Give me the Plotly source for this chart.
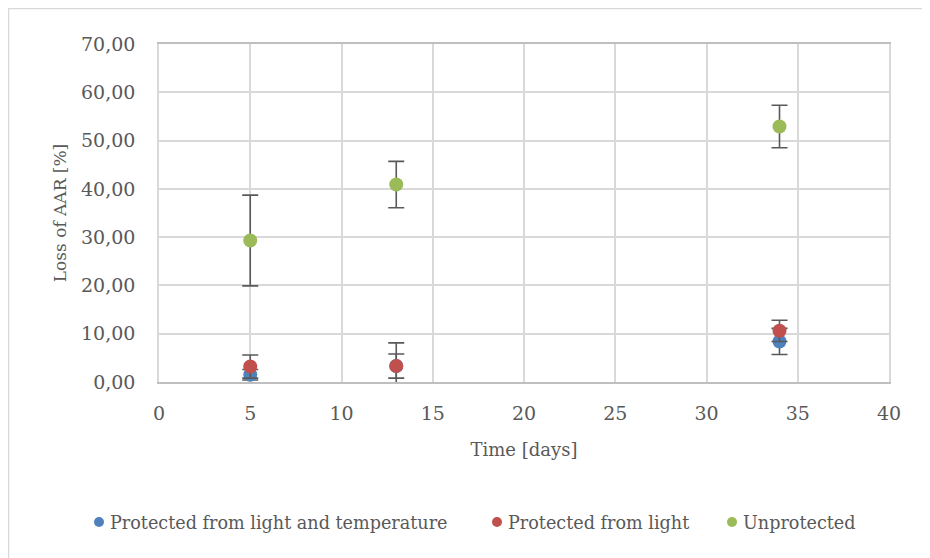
import plotly.graph_objects as go

days = [5, 13, 34]
series_names = ["Protected from light and temperature", "Protected from light", "Unprotected"]
blue_vals = [1.5, 3.3, 8.4]
blue_err = [1.1, 4.8, 2.7]
red_vals = [3.2, 3.3, 10.6]
red_err = [2.4, 2.5, 2.2]
green_vals = [29.3, 40.9, 52.9]
green_err = [9.4, 4.8, 4.4]
colors = ["#4F81BD", "#C0504D", "#9BBB59"]

x_ticks = [0, 5, 10, 15, 20, 25, 30, 35, 40]
y_ticks = [0, 10, 20, 30, 40, 50, 60, 70]

FONT = "DejaVu Serif"
OFF = 8  # page body margin
W, H = 930 - OFF, 558 - OFF
L, R, T, B = 159 - OFF, 41, 44 - OFF, 176
pw, ph = W - L - R, H - T - B

fig = go.Figure()
for name, vals, errs, c in zip(series_names, [blue_vals, red_vals, green_vals],
                               [blue_err, red_err, green_err], colors):
    fig.add_trace(go.Scatter(
        x=days, y=vals, mode="markers", name=name, showlegend=False,
        marker=dict(color=c, size=14, line=dict(width=0)),
        error_y=dict(type="data", array=errs, visible=True,
                     color="#595959", thickness=1.6, width=8),
    ))

# page pixel -> paper coords
def px_x(p):
    return (p - OFF - L) / pw

def px_y(p):
    return (H - B - (p - OFF)) / ph

# manual legend (Excel style: small dot right before text)
legend_text_x = [108, 506, 741]
legend_y = 523
annotations = []
shapes = [
    dict(type="line", xref="paper", yref="paper", x0=px_x(8), x1=px_x(940),
         y0=px_y(8.5), y1=px_y(8.5), line=dict(color="#D9D9D9", width=1.5)),
    dict(type="line", xref="paper", yref="paper", x0=px_x(8.5), x1=px_x(8.5),
         y0=px_y(8), y1=px_y(570), line=dict(color="#D9D9D9", width=1.5)),
]
for name, c, tx in zip(series_names, colors, legend_text_x):
    annotations.append(dict(
        x=px_x(tx), y=px_y(legend_y), xref="paper", yref="paper",
        xanchor="left", yanchor="middle", showarrow=False, text=name,
        font=dict(family=FONT, size=17.6, color="#595959"),
    ))
    shapes.append(dict(
        type="circle", xref="paper", yref="paper",
        xsizemode="pixel", ysizemode="pixel",
        xanchor=px_x(tx - 9), yanchor=px_y(legend_y - 1),
        x0=-5, x1=5, y0=-5, y1=5,
        fillcolor=c, line=dict(width=0),
    ))

fig.update_layout(
    width=W, height=H,
    margin=dict(l=L, r=R, t=T, b=B),
    paper_bgcolor="white", plot_bgcolor="white",
    separators=", ",
    font=dict(family=FONT, color="#595959"),
    showlegend=False,
    xaxis=dict(range=[0, 40], tickvals=x_ticks, ticktext=[str(v) for v in x_ticks],
               showgrid=True, gridcolor="#D9D9D9", gridwidth=1.5,
               showline=True, linecolor="#BFBFBF", linewidth=1.5, mirror=True,
               zeroline=False, ticks="", ticklabelstandoff=13,
               tickfont=dict(family=FONT, size=19, color="#595959"),
               title=dict(text="Time [days]", font=dict(family=FONT, size=18, color="#595959"),
                          standoff=21)),
    yaxis=dict(range=[0, 70], tickvals=y_ticks, tickformat=".2f",
               showgrid=True, gridcolor="#D9D9D9", gridwidth=1.5,
               showline=True, linecolor="#D9D9D9", linewidth=1.5, mirror=True,
               zeroline=False, ticks="", ticklabelstandoff=18,
               tickfont=dict(family=FONT, size=19, color="#595959"),
               title=dict(text="Loss of AAR [%]", font=dict(family=FONT, size=17, color="#595959"),
                          standoff=10)),
    shapes=shapes,
    annotations=annotations,
)

fig.write_html("out.html")
